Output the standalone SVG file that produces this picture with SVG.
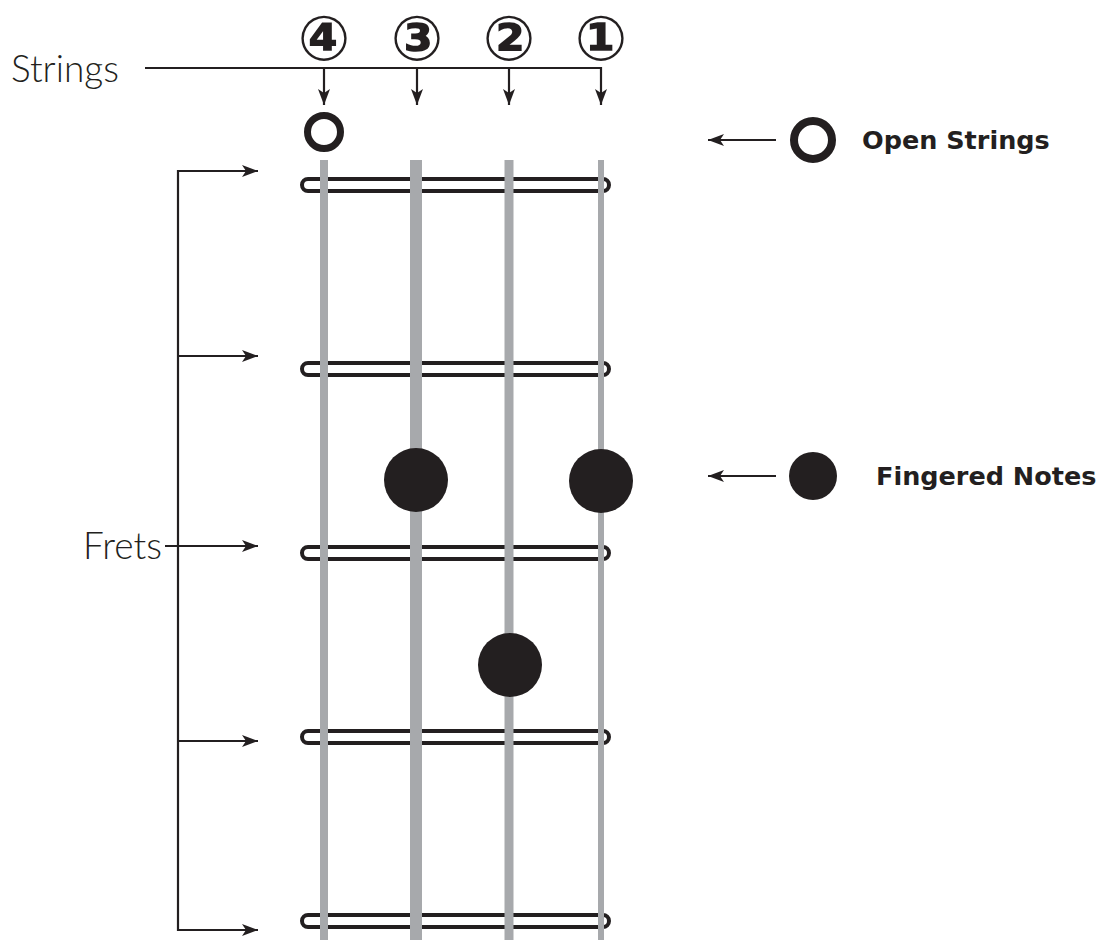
<svg xmlns="http://www.w3.org/2000/svg" width="1110" height="940" viewBox="0 0 1110 940">
<style>
.str{stroke:#a7a9ac;fill:none}
.fret{fill:none;stroke:#231f20;stroke-width:4}
.con{stroke:#231f20;stroke-width:2.2;fill:none}
.dot{fill:#231f20}
.ring{fill:none;stroke:#231f20}
.light{font-family:Lato,"Liberation Sans",sans-serif;font-weight:300;fill:#231f20}
.bold{font-family:"DejaVu Sans","Liberation Sans",sans-serif;font-weight:bold;fill:#231f20;font-size:25.5px}
.num{font-family:"DejaVu Serif","DejaVu Sans","Noto Sans CJK JP",serif;font-size:62px;font-weight:bold;fill:#231f20;text-anchor:middle}
</style>
<defs>
<marker id="ah" markerUnits="userSpaceOnUse" markerWidth="18" markerHeight="14" refX="16" refY="7" orient="auto">
<path d="M0,1 L16,7 L0,13 L4,7 z" fill="#231f20"/>
</marker>
</defs>
<g id="frets">
<rect class="fret" x="302" y="179" width="307" height="12" rx="6"/>
<rect class="fret" x="302" y="363" width="307" height="12" rx="6"/>
<rect class="fret" x="302" y="547" width="307" height="12" rx="6"/>
<rect class="fret" x="302" y="731" width="307" height="12" rx="6"/>
<rect class="fret" x="302" y="915" width="307" height="12" rx="6"/>
</g>
<g id="strings">
<line class="str" x1="324" y1="160" x2="324" y2="940" stroke-width="8"/>
<line class="str" x1="416" y1="160" x2="416" y2="940" stroke-width="12"/>
<line class="str" x1="509" y1="160" x2="509" y2="940" stroke-width="9"/>
<line class="str" x1="601" y1="160" x2="601" y2="940" stroke-width="6"/>
</g>
<g id="string-numbers">
<text class="num" x="324" y="60">④</text>
<text class="num" x="417" y="60">③</text>
<text class="num" x="509" y="60">②</text>
<text class="num" x="601" y="60">①</text>
</g>
<g id="open-string"><circle class="ring" cx="324" cy="132" r="16.5" stroke-width="7"/></g>
<g id="fingered-notes">
<circle class="dot" cx="416" cy="480" r="32"/>
<circle class="dot" cx="601" cy="481" r="32"/>
<circle class="dot" cx="510" cy="665" r="32"/>
</g>
<g id="labels">
<text class="light" x="11" y="82" font-size="37">Strings</text>
<text class="light" x="83" y="559" font-size="37">Frets</text>
</g>
<g id="legend-open">
<circle class="ring" cx="813" cy="140" r="19" stroke-width="8"/>
<text class="bold" x="862" y="149">Open Strings</text>
</g>
<g id="legend-fingered">
<circle class="dot" cx="813" cy="476" r="24"/>
<text class="bold" x="876" y="485">Fingered Notes</text>
</g>
<g id="connectors">
<polyline class="con" points="145,68 601,68 601,105" marker-end="url(#ah)"/>
<line class="con" x1="324" y1="68" x2="324" y2="105" marker-end="url(#ah)"/>
<line class="con" x1="417" y1="68" x2="417" y2="105" marker-end="url(#ah)"/>
<line class="con" x1="509" y1="68" x2="509" y2="105" marker-end="url(#ah)"/>
<polyline class="con" points="258,171 178,171 178,930 258,930" marker-end="url(#ah)"/>
<line class="con" x1="177" y1="171" x2="258" y2="171" marker-end="url(#ah)"/>
<line class="con" x1="178" y1="356" x2="258" y2="356" marker-end="url(#ah)"/>
<line class="con" x1="165" y1="546" x2="258" y2="546" marker-end="url(#ah)"/>
<line class="con" x1="178" y1="741" x2="258" y2="741" marker-end="url(#ah)"/>
<line class="con" x1="776" y1="140" x2="708" y2="140" marker-end="url(#ah)"/>
<line class="con" x1="776" y1="476" x2="708" y2="476" marker-end="url(#ah)"/>
</g>
</svg>
